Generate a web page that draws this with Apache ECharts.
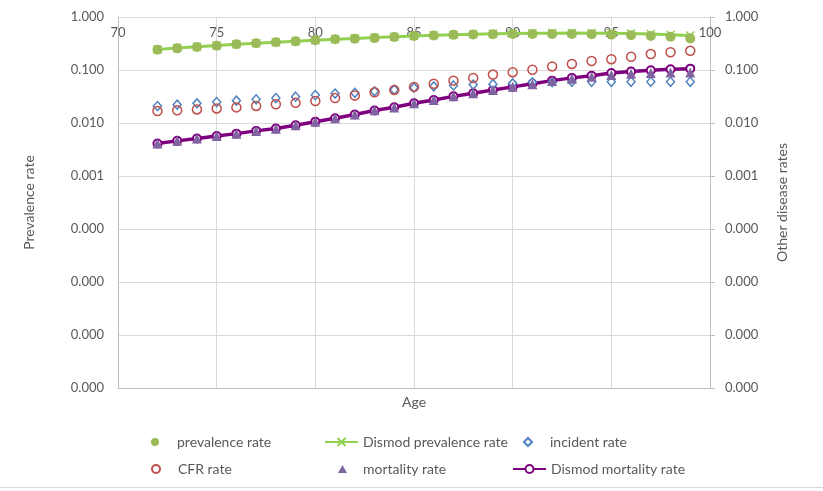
<!DOCTYPE html>
<html>
<head>
<meta charset="utf-8">
<script src="https://cdn.jsdelivr.net/npm/echarts@6/dist/echarts.min.js"></script>
<style>html,body{margin:0;padding:0;background:#fff}#c{width:823px;height:491px}</style>
</head>
<body>
<div id="c"></div>
<script>
const ages = [72,73,74,75,76,77,78,79,80,81,82,83,84,85,86,87,88,89,90,91,92,93,94,95,96,97,98,99];
const prevalenceRate = [0.241,0.256,0.272,0.287,0.305,0.319,0.333,0.347,0.365,0.38,0.39,0.40,0.42,0.44,0.45,0.46,0.47,0.475,0.48,0.48,0.48,0.48,0.475,0.465,0.455,0.44,0.425,0.395];
const dismodPrevalence = [0.245,0.26,0.275,0.29,0.305,0.32,0.335,0.35,0.365,0.38,0.395,0.41,0.425,0.44,0.452,0.463,0.473,0.481,0.488,0.493,0.496,0.497,0.496,0.492,0.486,0.476,0.463,0.447];
const incidentRate = [0.0209,0.0222,0.0235,0.0249,0.0264,0.028,0.0296,0.0313,0.0337,0.036,0.0372,0.0396,0.0425,0.0465,0.049,0.051,0.053,0.054,0.056,0.0585,0.059,0.06,0.06,0.06,0.06,0.06,0.06,0.06];
const cfrRate = [0.0168,0.0174,0.018,0.0188,0.0197,0.021,0.0226,0.024,0.026,0.0295,0.033,0.038,0.042,0.048,0.055,0.063,0.071,0.082,0.091,0.101,0.117,0.13,0.148,0.16,0.178,0.20,0.216,0.23];
const mortalityRate = [0.0041,0.0046,0.0051,0.0057,0.0063,0.0071,0.0078,0.0091,0.0106,0.0123,0.0145,0.0174,0.0197,0.0235,0.0271,0.0318,0.0363,0.0419,0.0484,0.054,0.062,0.0686,0.0749,0.0805,0.085,0.088,0.09,0.09];
const dismodMortality = [0.0041,0.0046,0.0051,0.0057,0.0063,0.0071,0.0079,0.0091,0.0106,0.0123,0.0145,0.0172,0.0198,0.0235,0.0272,0.0318,0.0365,0.042,0.048,0.055,0.063,0.071,0.078,0.0875,0.094,0.099,0.103,0.106];

const pair = arr => ages.map((a, i) => [a, arr[i]]);
const FONT = 'Lato';
const TXT = '#595959';
const GRID = '#D9D9D9';
const AXIS = '#BFBFBF';
const fmt = v => Number(v).toFixed(3);
const xPath = 'path://M0,0L10,10M10,0L0,10';

const chart = echarts.init(document.getElementById('c'));
const legendBase = (name, left, top, w, h, pad) => ({
  data: [name], left: left, top: top, itemWidth: w, itemHeight: h, padding: 0,
  selectedMode: false,
  textStyle: {fontFamily: FONT, fontSize: 14, color: TXT, padding: [0, 0, 0, pad]}
});
chart.setOption({
  animation: false,
  textStyle: {fontFamily: FONT},
  grid: {left: 118, right: 113, top: 17, bottom: 103, containLabel: false},
  xAxis: [{
    type: 'value', min: 70, max: 100, interval: 5, position: 'bottom',
    name: 'Age', nameLocation: 'middle', nameGap: 7,
    nameTextStyle: {fontFamily: FONT, fontSize: 14, color: TXT},
    axisLine: {show: true, lineStyle: {color: AXIS}},
    axisTick: {show: false}, axisLabel: {show: false},
    splitLine: {show: true, lineStyle: {color: GRID}}
  }, {
    type: 'value', min: 70, max: 100, interval: 5, position: 'top',
    axisLine: {show: false}, axisTick: {show: false},
    axisLabel: {inside: true, margin: 9, fontFamily: FONT, fontSize: 13, color: TXT},
    splitLine: {show: false}
  }],
  yAxis: [{
    type: 'log', logBase: 10, min: 1e-7, max: 1, splitNumber: 7, position: 'left',
    name: 'Prevalence rate', nameLocation: 'middle', nameGap: 82,
    nameTextStyle: {fontFamily: FONT, fontSize: 14, color: TXT},
    axisLine: {show: true, lineStyle: {color: AXIS}},
    axisTick: {show: false},
    axisLabel: {formatter: fmt, margin: 14, fontFamily: FONT, fontSize: 13, color: TXT},
    splitLine: {show: true, lineStyle: {color: GRID}}
  }, {
    type: 'log', logBase: 10, min: 1e-7, max: 1, splitNumber: 7, position: 'right',
    name: 'Other disease rates', nameLocation: 'middle', nameGap: 65,
    nameTextStyle: {fontFamily: FONT, fontSize: 14, color: TXT},
    axisLine: {show: true, lineStyle: {color: AXIS}},
    axisTick: {show: true, length: 5, lineStyle: {color: AXIS}},
    axisLabel: {formatter: fmt, margin: 15, fontFamily: FONT, fontSize: 13, color: TXT},
    splitLine: {show: false}
  }],
  legend: [
    legendBase('prevalence rate', 151, 435, 8, 8, 13),
    legendBase('Dismod prevalence rate', 324, 435, 33, 10, 0),
    legendBase('incident rate', 523, 435, 8, 8, 13),
    legendBase('CFR rate', 151, 462, 8, 8, 13),
    legendBase('mortality rate', 338, 462, 9, 8, 11),
    legendBase('Dismod mortality rate', 512, 462, 33, 10, 0)
  ],
  graphic: [{
    type: 'line', shape: {x1: 0, y1: 487.5, x2: 823, y2: 487.5},
    style: {stroke: GRID, lineWidth: 1}, silent: true
  }],
  series: [{
    name: 'Dismod prevalence rate', type: 'line', yAxisIndex: 0, data: pair(dismodPrevalence),
    lineStyle: {color: '#92D050', width: 3}, symbol: xPath, symbolSize: 8, showAllSymbol: true,
    itemStyle: {color: '#92D050', borderColor: '#92D050', borderWidth: 1.5}, z: 2
  }, {
    name: 'prevalence rate', type: 'scatter', yAxisIndex: 0, data: pair(prevalenceRate),
    symbol: 'circle', symbolSize: 10, itemStyle: {color: '#9BBB59', opacity: 1}, z: 3
  }, {
    name: 'incident rate', type: 'scatter', yAxisIndex: 1, data: pair(incidentRate),
    symbol: 'diamond', symbolSize: [8, 9],
    itemStyle: {color: '#fff', borderColor: '#4F81BD', borderWidth: 1.5, opacity: 1}, z: 3
  }, {
    name: 'CFR rate', type: 'scatter', yAxisIndex: 1, data: pair(cfrRate),
    symbol: 'circle', symbolSize: 9,
    itemStyle: {color: 'rgba(255,255,255,0)', borderColor: '#C0504D', borderWidth: 1.5, opacity: 1}, z: 3
  }, {
    name: 'Dismod mortality rate', type: 'line', yAxisIndex: 1, data: pair(dismodMortality),
    lineStyle: {color: '#7F007F', width: 3.5}, symbol: 'emptyCircle', symbolSize: 8, showAllSymbol: true,
    itemStyle: {color: '#7F007F', borderColor: '#7F007F', borderWidth: 1.5}, z: 2
  }, {
    name: 'mortality rate', type: 'scatter', yAxisIndex: 1, data: pair(mortalityRate),
    symbol: 'triangle', symbolSize: 10, itemStyle: {color: '#8064A2', opacity: 1}, z: 3
  }]
});
</script>
</body>
</html>
